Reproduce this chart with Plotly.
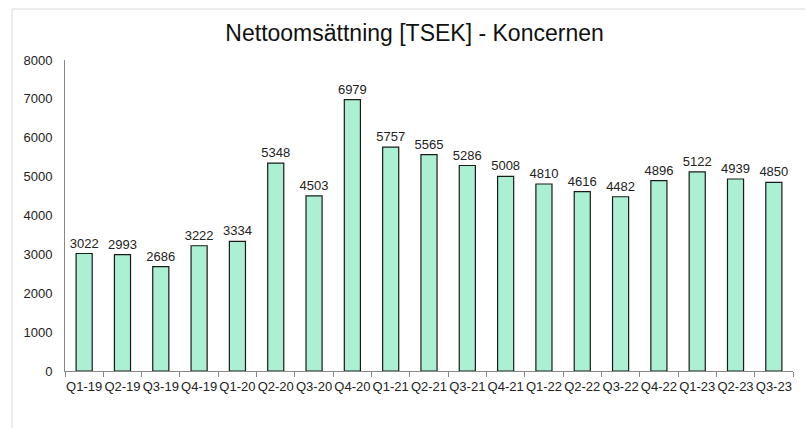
import plotly.graph_objects as go

quarters = ["Q1-19", "Q2-19", "Q3-19", "Q4-19", "Q1-20", "Q2-20", "Q3-20", "Q4-20",
            "Q1-21", "Q2-21", "Q3-21", "Q4-21", "Q1-22", "Q2-22", "Q3-22", "Q4-22",
            "Q1-23", "Q2-23", "Q3-23"]
sales = [3022, 2993, 2686, 3222, 3334, 5348, 4503, 6979, 5757, 5565, 5286, 5008,
         4810, 4616, 4482, 4896, 5122, 4939, 4850]
y_ticks = [0, 1000, 2000, 3000, 4000, 5000, 6000, 7000, 8000]

W, H = 805, 428
ml, mr, mt, mb = 65, 12, 60, 57
pw, ph = W - ml - mr, H - mt - mb

def px(x):
    return (x - ml) / pw

def py(y):
    return (H - mb - y) / ph

FONT = "Liberation Sans, Arial"

fig = go.Figure(go.Bar(
    x=quarters, y=sales,
    marker=dict(color="#abf0d3", line=dict(color="#1a1a1a", width=1.2)),
    text=[str(v) for v in sales], textposition="outside", cliponaxis=False,
    constraintext="none", textangle=0,
    textfont=dict(family=FONT, size=13, color="#222222"),
))

fig.update_layout(
    width=W, height=H,
    margin=dict(l=ml, r=mr, t=mt, b=mb),
    paper_bgcolor="white", plot_bgcolor="white",
    bargap=0.58, showlegend=False,
    title=dict(text="Nettoomsättning [TSEK] - Koncernen", x=0.515, xanchor="center",
               y=1 - 33 / H, yanchor="middle",
               font=dict(family=FONT, size=23, color="#111111")),
    font=dict(family=FONT, size=13, color="#222222"),
    shapes=[
        dict(type="line", xref="paper", yref="paper", x0=px(12), x1=px(W + 20),
             y0=py(9), y1=py(9), line=dict(color="#d9d9d9", width=1)),
        dict(type="line", xref="paper", yref="paper", x0=px(12), x1=px(12),
             y0=py(9), y1=py(H + 20), line=dict(color="#d9d9d9", width=1)),
    ],
)
fig.update_xaxes(showline=True, linecolor="#888888", linewidth=1, ticks="outside",
                 tickson="boundaries", ticklen=5, tickcolor="#888888",
                 showgrid=False, tickangle=0, ticklabelstandoff=3,
                 tickfont=dict(family=FONT, size=13, color="#222222"))
fig.update_yaxes(range=[0, 8000], tickvals=y_ticks, showline=True, linecolor="#888888",
                 linewidth=1, showgrid=False, zeroline=False, ticks="", ticklen=0,
                 ticklabelstandoff=9,
                 tickfont=dict(family=FONT, size=13, color="#222222"))

fig.write_html("out.html", config={"displayModeBar": False},
               post_script="document.body.style.margin='0';document.body.style.overflow='hidden';")
